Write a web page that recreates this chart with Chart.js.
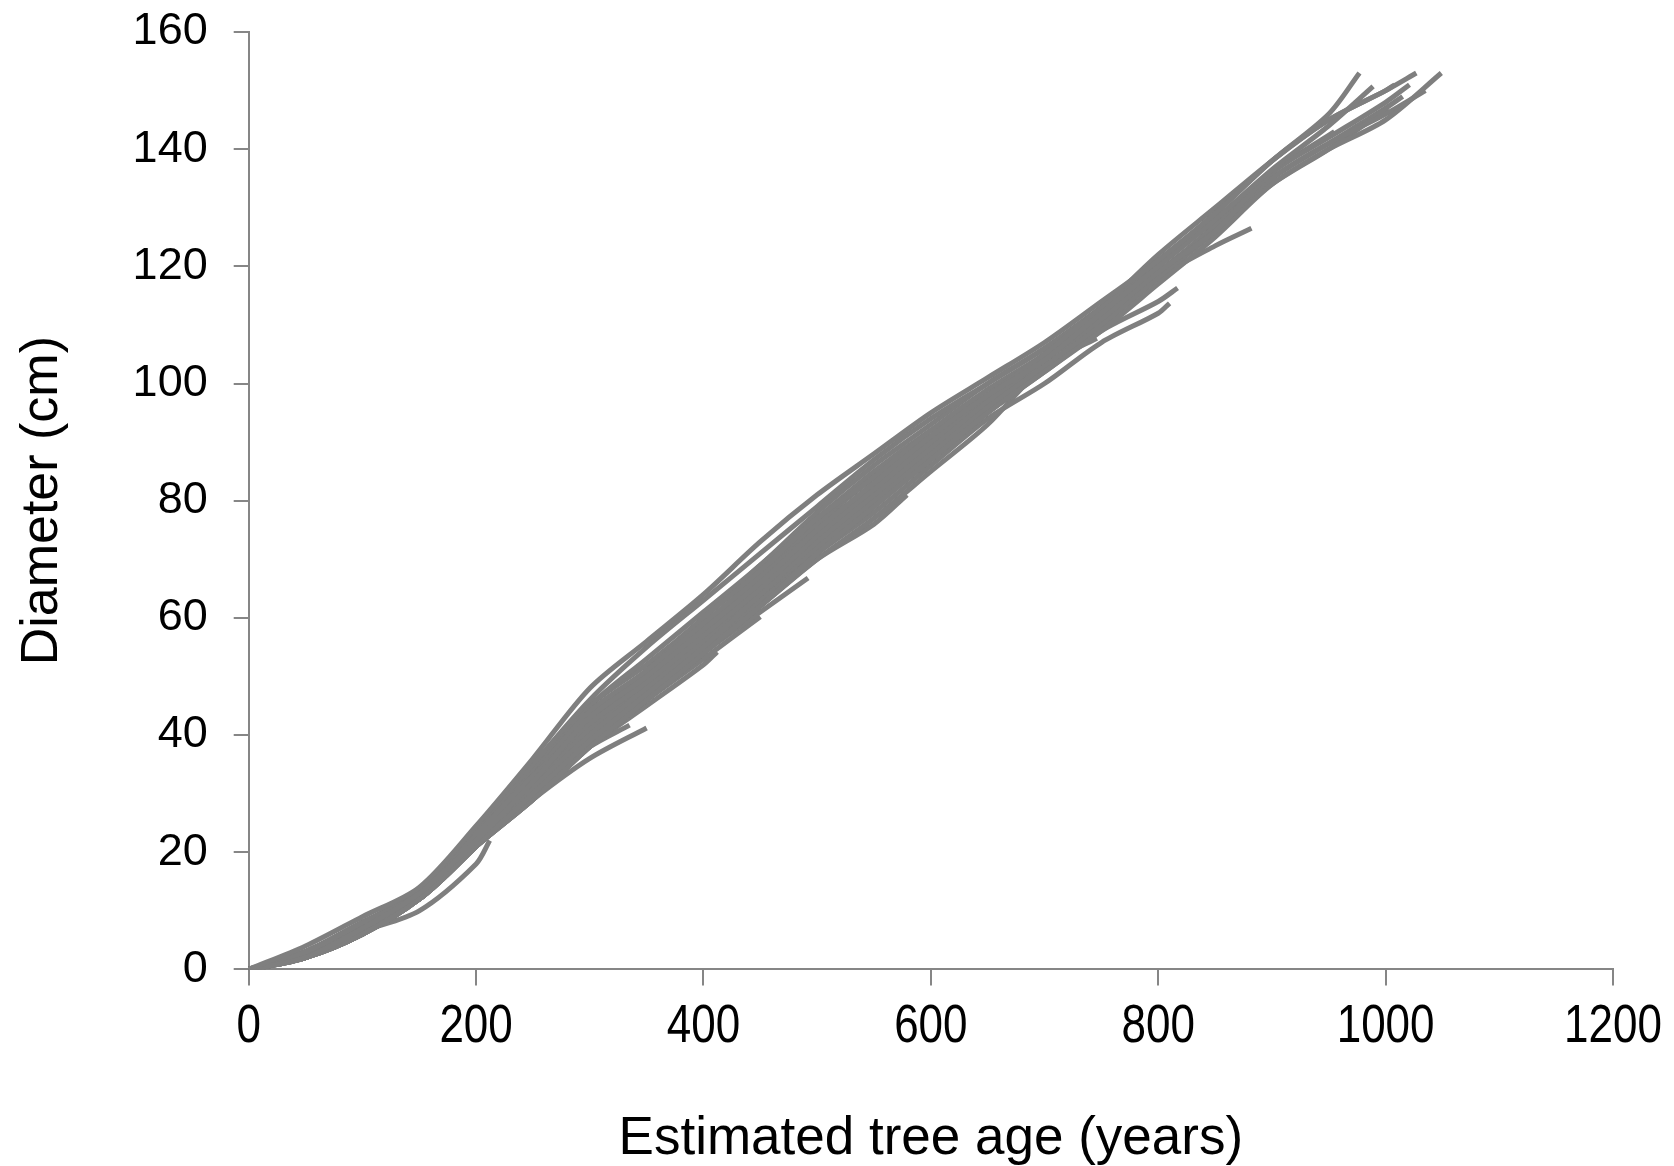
<!DOCTYPE html>
<html>
<head>
<meta charset="utf-8">
<script src="https://cdn.jsdelivr.net/npm/chart.js@4.4.1/dist/chart.umd.min.js"></script>
<style>
  html, body { margin: 0; padding: 0; background: #fff; }
  #wrap { width: 1674px; height: 1166px; }
</style>
</head>
<body>
<div id="wrap"><canvas id="myChart" width="1674" height="1166"></canvas></div>
<script>
// Edades de la rejilla (años); el último valor de cada árbol va a su edad final
const ages = [0, 50, 100, 150, 200, 250, 300, 350, 400, 450, 500, 550, 600, 650, 700, 750, 800, 850, 900, 950, 1000, 1050]

// Diámetros (cm), un array por árbol
const treeA = [0, 4, 9, 14, 24.5, 36, 48, 56, 64, 73, 81, 88, 95, 101, 107, 114, 121, 129, 138, 146, 153]
const treeB = [0, 2, 7, 13, 22, 32, 43, 50, 58, 66, 75, 83, 91, 98, 104, 112, 120, 128, 136.5, 144, 150.7]
const treeC = [0, 3, 8, 13, 23, 33, 42, 49, 57, 65, 74, 82, 90, 98, 105, 113, 121, 129, 138, 145, 150, 151]
const treeD = [0, 2, 6, 12, 21, 30, 39, 47, 55, 64, 73, 81, 89, 97, 104, 111, 119, 126, 136, 142, 148, 151]
const treeE = [0, 3, 8, 13.5, 24, 35, 46, 55, 63, 71, 79, 87, 94, 100, 106, 113, 122, 130, 138, 145, 150, 153]
const treeF = [0, 2, 6, 12, 21, 29, 38, 46, 54, 62, 71, 79, 87, 95, 102, 109, 117, 125, 134, 140, 145, 153]
const treeG = [0, 3, 7, 12, 21, 31, 40, 48, 56, 64, 72, 80, 88, 96, 103, 110, 118, 126, 135, 141, 146, 150]
const treeH = [0, 2, 7, 13, 22, 33, 44, 51, 59, 67, 75, 83, 90, 97, 104, 111, 119, 126, 134, 140, 147]
const treeI = [0, 3, 7, 12, 21, 31, 41, 48, 56, 64, 72, 80, 88, 96, 103, 110, 118, 123.5, 126.5]
const treeJ = [0, 2, 7, 12, 21, 30, 40, 47, 55, 63, 71, 79, 87, 95, 102, 109, 114, 116.3]
const treeK = [0, 3, 8, 13, 22, 31, 41, 48, 56, 63, 71, 78, 86, 94, 100, 107, 112, 113.7]
const treeL = [0, 2, 6, 12, 21, 29, 39, 46, 54, 62, 70, 77, 85, 93, 103, 107.7]
const treeM = [0, 3, 7, 12, 21, 30, 39, 46, 54, 62, 70, 76, 81]
const treeN = [0, 2, 6, 12, 21, 29, 38, 46, 54, 61, 66.8]
const treeO = [0, 3, 7, 12, 21, 30, 39, 46, 53, 60.2]
const treeP = [0, 2, 6, 12, 21, 29, 38, 45, 52, 54.2]
const treeQ = [0, 2, 7, 12, 21, 29, 36, 41.2]
const treeR = [0, 3, 7, 12, 22, 31, 38, 41.7]
const treeS = [0, 2.5, 6.5, 10, 18, 22]
const treeT = [0, 3, 8, 13, 23, 33, 44, 51, 60, 68, 77, 84, 92, 99, 105, 112, 115]
const treeU = [0, 2, 7, 12, 22, 32, 42, 49, 57, 65, 73, 81, 89, 96, 100]
const treeV = [0, 3, 8, 13, 24, 34, 45, 53, 61, 69, 78, 86, 93, 100, 106, 113, 120, 128, 137]
const treeW = [0, 2, 7, 12, 22, 32, 41, 49, 57, 66, 74, 82, 90, 92]
const treeX = [0, 3, 8, 13, 23, 33, 43, 51, 59, 67, 76, 83]
const treeY = [0, 2, 7, 12, 21, 31, 42, 50, 58, 67, 76, 84, 91, 98, 105, 112, 119, 127, 136, 143]
const treeZ = [0, 3, 8, 13, 23, 34, 45, 52, 60, 69, 77, 85, 92, 98, 104]
const treeAA = [0, 2, 6, 12, 21, 30, 40, 47, 55, 63, 72, 80, 88, 96, 103, 110, 118, 126, 135, 141, 147, 149]

const trees = [treeA, treeB, treeC, treeD, treeE, treeF, treeG, treeH, treeI, treeJ, treeK,
  treeL, treeM, treeN, treeO, treeP, treeQ, treeR, treeS, treeT, treeU,
  treeV, treeW, treeX, treeY, treeZ, treeAA]

// Edad final (años) de cada árbol, en el mismo orden
const endAges = [977, 989, 1008, 1021, 1027, 1049, 1035, 1002, 882, 817, 810,
  746, 579, 492, 450, 412, 350, 335, 212, 775, 665,
  905, 620, 560, 955, 700, 1015]

const xTicks = [0, 200, 400, 600, 800, 1000, 1200]
const yTicks = [0, 20, 40, 60, 80, 100, 120, 140, 160]

const lineGray = '#7f7f7f'
const axisGray = '#868686'

const datasets = trees.map((vals, k) => ({
  data: vals.map((v, i) => ({ x: i === vals.length - 1 ? endAges[k] : ages[i], y: v })),
  borderColor: lineGray,
  borderWidth: 5,
  pointRadius: 0,
  tension: 0.3,
  fill: false,
}))

// Etiquetas del eje X en letra estrecha (el original usa una fuente condensada)
const narrowXLabels = {
  id: 'narrowXLabels',
  afterDraw(chart) {
    const sx = chart.scales.x
    const c = chart.ctx
    c.save()
    c.fillStyle = '#000'
    c.font = '53px "Liberation Sans", Arial, sans-serif'
    c.textAlign = 'center'
    c.textBaseline = 'middle'
    xTicks.forEach(v => {
      c.save()
      c.translate(sx.getPixelForValue(v), 1027)
      c.scale(0.83, 1)
      c.fillText(String(v), 0, 0)
      c.restore()
    })
    c.restore()
  },
}

const ctx = document.getElementById('myChart').getContext('2d')

new Chart(ctx, {
  type: 'line',
  data: { datasets: datasets },
  plugins: [narrowXLabels],
  options: {
    responsive: false,
    animation: false,
    layout: { padding: { left: 0, top: 32, right: 61, bottom: 0 } },
    plugins: { legend: { display: false }, tooltip: { enabled: false } },
    scales: {
      x: {
        type: 'linear',
        min: 0,
        max: 1200,
        afterBuildTicks: (s) => { s.ticks = xTicks.map(v => ({ value: v })) },
        afterFit: (s) => { s.height = 196.6; s.paddingLeft = 0; s.paddingRight = 0 },
        border: { display: true, color: axisGray, width: 2 },
        grid: { display: true, drawOnChartArea: false, color: axisGray, lineWidth: 2, tickLength: 16 },
        ticks: { display: false },
        title: {
          display: true,
          text: 'Estimated tree age (years)',
          color: '#000',
          padding: { top: 0, bottom: 0 },
          font: { family: '"Liberation Sans", Arial, sans-serif', size: 53, lineHeight: 1 },
        },
      },
      y: {
        min: 0,
        max: 160,
        afterBuildTicks: (s) => { s.ticks = yTicks.map(v => ({ value: v })) },
        afterFit: (s) => { s.width = 248.7; s.paddingTop = 0; s.paddingBottom = 0 },
        border: { display: true, color: axisGray, width: 2 },
        grid: { display: true, drawOnChartArea: false, color: axisGray, lineWidth: 2, tickLength: 15 },
        ticks: {
          color: '#000',
          padding: 26,
          font: { family: '"Liberation Sans", Arial, sans-serif', size: 45 },
        },
        title: {
          display: true,
          text: 'Diameter (cm)',
          color: '#000',
          padding: { top: 17, bottom: 0 },
          font: { family: '"Liberation Sans", Arial, sans-serif', size: 52, lineHeight: 1 },
        },
      },
    },
  },
})
</script>
</body>
</html>
